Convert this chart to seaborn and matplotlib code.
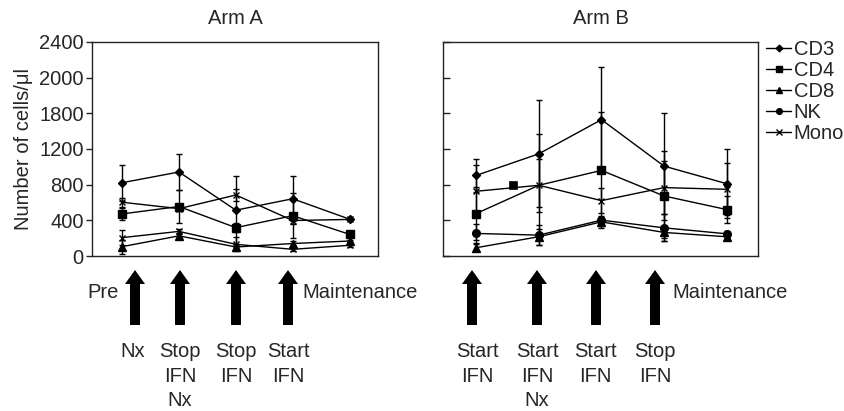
import numpy as np
import pandas as pd
import matplotlib
matplotlib.use("Agg")
import matplotlib.pyplot as plt
from matplotlib.lines import Line2D
from matplotlib.patches import FancyArrow
import seaborn as sns

# ---------------- data ----------------
time = [0, 1, 2, 3, 4]
cells = ["CD3", "CD4", "CD8", "NK", "Mono"]

armA_cd3 = [822, 942, 514, 642, 413]
armA_cd3_err = [200, 200, 380, 255, 0]
armA_cd4 = [472, 555, 318, 452, 243]
armA_cd4_err = [70, 190, 50, 255, 0]
armA_cd8 = [105, 226, 101, 140, 168]
armA_cd8_err = [80, 30, 20, 30, 15]
armA_nk = [206, 276, 131, 75, 120]
armA_nk_err = [80, 30, 80, 20, 15]
armA_mono = [603, 531, 684, 398, 410]
armA_mono_err = [50, 30, 70, 40, 0]

armB_cd3 = [904, 1146, 1529, 1008, 811]
armB_cd3_err = [185, 600, 590, 600, 390]
armB_cd4 = [476, 793, 960, 673, 521]
armB_cd4_err = [300, 580, 650, 510, 150]
armB_cd8 = [93, 216, 383, 264, 216]
armB_cd8_err = [40, 90, 50, 60, 25]
armB_nk = [253, 234, 402, 316, 249]
armB_nk_err = [110, 110, 50, 150, 30]
armB_mono = [726, 793, 621, 767, 748]
armB_mono_err = [290, 300, 140, 300, 290]
# the CD4 marker of the 2nd Arm B time point is drawn displaced in the source
armB_cd4_extra_x = [0.58]
armB_cd4_extra_y = [793]

ytick_vals = [0, 400, 800, 1200, 1600, 2000, 2400]
ytick_labels = ["0", "400", "800", "1200", "1800", "2000", "2400"]

armA_events = ["Nx", "Stop\nIFN\nNx", "Stop\nIFN", "Start\nIFN"]
armB_events = ["Start\nIFN", "Start\nIFN\nNx", "Start\nIFN", "Stop\nIFN"]

# ---------------- style ----------------
sns.set_theme(style="ticks")
plt.rcParams["font.family"] = ["Liberation Sans", "DejaVu Sans"]
FS = 14.5

W, H = 845, 411
fig = plt.figure(figsize=(W / 100, H / 100), dpi=100)

def rect(l, t, r, b):
    return [l / W, 1 - b / H, (r - l) / W, (b - t) / H]

axA = fig.add_axes(rect(92, 42, 378, 256))
axB = fig.add_axes(rect(443, 42, 758, 256))

markers = {"CD3": "D", "CD4": "s", "CD8": "^", "NK": "o", "Mono": "x"}
msize = {"D": 4.5, "s": 6, "^": 6, "o": 5.5, "x": 5}

def draw(ax, series, nk_marker, skip_cd4=False):
    for name, vals, err in series:
        m = markers[name]
        if name == "NK":
            m = nk_marker
        kw = {}
        if skip_cd4 and name == "CD4":
            kw["markevery"] = [0, 2, 3, 4]
        ax.errorbar(time, vals, yerr=err, fmt="none", ecolor="black",
                    elinewidth=1.0, capsize=2.5, capthick=1.0, zorder=2)
        sns.lineplot(x=time, y=vals, ax=ax, color="black", marker=m,
                     markersize=msize[m], markeredgecolor="black",
                     markerfacecolor="black", markeredgewidth=1.0,
                     linewidth=1.0, zorder=3, **kw)

draw(axA, [("CD3", armA_cd3, armA_cd3_err), ("CD4", armA_cd4, armA_cd4_err),
           ("CD8", armA_cd8, armA_cd8_err), ("NK", armA_nk, armA_nk_err),
           ("Mono", armA_mono, armA_mono_err)], nk_marker="x")
draw(axB, [("CD3", armB_cd3, armB_cd3_err), ("CD4", armB_cd4, armB_cd4_err),
           ("CD8", armB_cd8, armB_cd8_err), ("NK", armB_nk, armB_nk_err),
           ("Mono", armB_mono, armB_mono_err)], nk_marker="o", skip_cd4=True)
sns.scatterplot(x=armB_cd4_extra_x, y=armB_cd4_extra_y, ax=axB, marker="s",
                s=36, color="black", edgecolor="black", zorder=4)

for ax in (axA, axB):
    ax.set_xlim(-0.53, 4.5)
    ax.set_ylim(0, 2400)
    ax.set_yticks(ytick_vals)
    ax.set_xticks([])
    ax.set_xlabel("")
    for s in ax.spines.values():
        s.set_visible(True)
        s.set_linewidth(1.0)
        s.set_color("#222222")
    ax.set_facecolor("white")

axA.set_yticklabels(ytick_labels, fontsize=FS)
axA.tick_params(axis="y", direction="out", length=4, width=1, pad=2)
axA.set_ylabel("Number of cells/μl", fontsize=FS)
axA.yaxis.set_label_coords(-0.205, 0.5)
axB.set_yticklabels([])
axB.tick_params(axis="y", direction="in", length=5, width=1)
axB.set_ylabel("")

axA.set_title("Arm A", fontsize=FS, pad=13)
axB.set_title("Arm B", fontsize=FS, pad=13)

# legend
handles = [Line2D([0], [0], color="black", lw=1.0, marker=markers[c],
                  markersize=msize[markers[c]] * 0.75, markerfacecolor="black",
                  markeredgecolor="black") for c in cells]
fig.legend(handles, cells, loc="upper left",
           bbox_to_anchor=(766 / W, 1 - 40 / H), frameon=False,
           fontsize=FS, handlelength=1.25, handletextpad=0.12,
           labelspacing=0.1, borderpad=0, borderaxespad=0)

# overlay for treatment arrows / annotations
ov = fig.add_axes([0, 0, 1, 1], zorder=-1)
ov.set_xlim(0, W)
ov.set_ylim(H, 0)
ov.axis("off")

arrowsA = [135, 180, 236, 288]
arrowsB = [472, 537, 596, 655]
for x in arrowsA + arrowsB:
    ov.add_patch(FancyArrow(x, 325, 0, -55, width=10, head_width=20,
                            head_length=14, length_includes_head=True,
                            color="black", lw=0))

labelA_x = [133, 180, 236, 288]
labelB_x = [477, 537, 595, 655]
for x, t in zip(labelA_x, armA_events):
    ov.text(x, 342, t, ha="center", va="top", fontsize=FS, linespacing=1.38)
for x, t in zip(labelB_x, armB_events):
    ov.text(x, 342, t, ha="center", va="top", fontsize=FS, linespacing=1.38)

ov.text(119, 292, "Pre", ha="right", va="center", fontsize=FS)
ov.text(302, 292, "Maintenance", ha="left", va="center", fontsize=FS)
ov.text(672, 292, "Maintenance", ha="left", va="center", fontsize=FS)

fig.savefig("out.png", dpi=100, facecolor="white")
